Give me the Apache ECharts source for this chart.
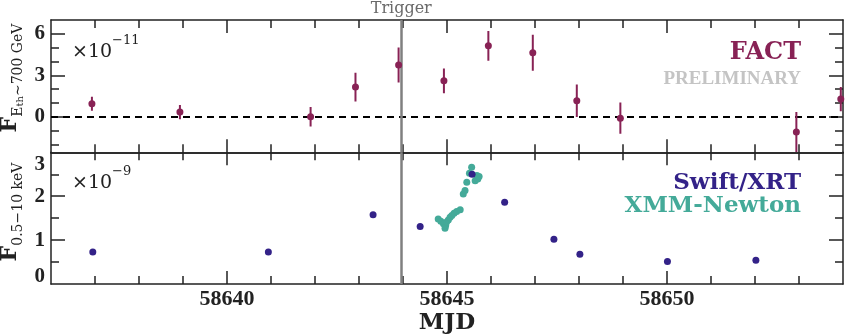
<!DOCTYPE html>
<html><head><meta charset="utf-8">
<script src="https://cdn.jsdelivr.net/npm/echarts@6/dist/echarts.min.js"></script>
<style>html,body{margin:0;padding:0;background:#fff}#c{width:847px;height:336px}</style>
</head><body><div id="c"></div>
<script>
// ---------- data ----------
const factMJD  = [58636.93, 58638.93, 58641.90, 58642.92, 58643.90, 58644.93, 58645.94, 58646.95, 58647.95, 58648.94, 58652.94, 58653.95];
const factFlux = [0.94, 0.34, 0.00, 2.15, 3.74, 2.60, 5.13, 4.63, 1.16, -0.10, -1.10, 1.28];
const factErr  = [0.50, 0.52, 0.70, 1.04, 1.27, 0.90, 1.08, 1.31, 1.18, 1.13, 1.45, 0.88];

const xrtMJD  = [58636.95, 58640.94, 58643.32, 58644.39, 58645.57, 58646.31, 58647.43, 58648.02, 58650.01, 58652.02];
const xrtFlux = [0.73, 0.73, 1.575, 1.31, 2.50, 1.86, 1.02, 0.68, 0.51, 0.54];

const xmmMJD  = [58644.80, 58644.86, 58644.92, 58644.955, 58644.97, 58644.99, 58645.03, 58645.07, 58645.11, 58645.16, 58645.22, 58645.30, 58645.37, 58645.41, 58645.45, 58645.51, 58645.56, 58645.64, 58645.68, 58645.70, 58645.73];
const xmmFlux = [1.48, 1.43, 1.37, 1.27, 1.33, 1.41, 1.46, 1.52, 1.56, 1.61, 1.65, 1.69, 2.05, 2.13, 2.32, 2.52, 2.66, 2.35, 2.47, 2.39, 2.45];

const triggerMJD = 58643.955;

const xMajorTicks = [58640, 58645, 58650];
const xMinorTicks = [58637, 58638, 58639, 58641, 58642, 58643, 58644, 58646, 58647, 58648, 58649, 58651, 58652, 58653];
const topMajorTicks = [0, 3, 6];
const topMinorTicks = [-2, -1, 1, 2, 4, 5];
const botLabelTicks = [0, 1, 2, 3];
const botMajorTicks = [1, 2];
const botMinorTicks = [0.5, 1.5, 2.5];

// ---------- style ----------
const WINE = '#882255', INDIGO = '#332288', TEAL = '#44AA99';
const AX = '#222';
const TICKFONT = 'Liberation Serif';
const SERIF = 'DejaVu Serif';
const X0 = 58636, X1 = 58654;

function xPair(grid, pos, labels) {
  const base = {
    type: 'value', gridIndex: grid, position: pos, min: X0, max: X1,
    splitLine: {show: false}
  };
  const minor = Object.assign({}, base, {
    axisLine: {show: true, onZero: false, lineStyle: {color: AX, width: 1.5}},
    axisTick: {show: true, inside: true, length: 8, customValues: xMinorTicks, lineStyle: {color: AX, width: 1.5}},
    axisLabel: {show: false}
  });
  const major = Object.assign({}, base, {
    axisLine: {show: false, onZero: false},
    axisTick: {show: true, inside: true, length: 13, customValues: xMajorTicks, lineStyle: {color: AX, width: 1.5}},
    axisLabel: labels ? {show: true, customValues: xMajorTicks, margin: 4, color: AX,
      fontFamily: TICKFONT, fontWeight: 'bold', fontSize: 22, formatter: v => String(v)} : {show: false}
  });
  if (labels) {
    major.name = 'MJD';
    major.nameLocation = 'middle';
    major.nameGap = 28;
    major.nameTextStyle = {fontFamily: SERIF, fontWeight: 'bold', fontSize: 23, color: AX};
  }
  return [minor, major];
}

function yPair(grid, pos, min, max, minorT, majorT, labelT, labels, fmt) {
  const base = {type: 'value', gridIndex: grid, position: pos, min: min, max: max, splitLine: {show: false}};
  const minor = Object.assign({}, base, {
    axisLine: {show: true, onZero: false, lineStyle: {color: AX, width: 1.5}},
    axisTick: {show: true, inside: true, length: 8, customValues: minorT, lineStyle: {color: AX, width: 1.5}},
    axisLabel: {show: false}
  });
  const major = Object.assign({}, base, {
    axisLine: {show: false, onZero: false},
    axisTick: {show: true, inside: true, length: 14, customValues: majorT, lineStyle: {color: AX, width: 1.5}},
    axisLabel: labels ? {show: true, customValues: labelT, margin: 6, color: AX, showMinLabel: true, showMaxLabel: true,
      fontFamily: TICKFONT, fontWeight: 'bold', fontSize: 21, formatter: fmt,
      rich: {
        lo: {fontFamily: TICKFONT, fontWeight: 'bold', fontSize: 21, color: AX, padding: [0, 0, 14, 0]},
        hi: {fontFamily: TICKFONT, fontWeight: 'bold', fontSize: 21, color: AX, padding: [24, 0, 0, 0]}
      }} : {show: false}
  });
  return [minor, major];
}

const botFmt = v => v === 0 ? '{lo|0}' : (v === 3 ? '{hi|3}' : String(v));
const topFmt = v => String(v);

const xAxes = [].concat(
  xPair(0, 'bottom', false), xPair(0, 'top', false),
  xPair(1, 'bottom', true),  xPair(1, 'top', false)
);
const yAxes = [].concat(
  yPair(0, 'left', -2.57, 7.0, topMinorTicks, topMajorTicks, topMajorTicks, true, topFmt),
  yPair(0, 'right', -2.57, 7.0, topMinorTicks, topMajorTicks, topMajorTicks, false),
  yPair(1, 'left', 0, 3, botMinorTicks, botMajorTicks, botLabelTicks, true, botFmt),
  yPair(1, 'right', 0, 3, botMinorTicks, botMajorTicks, botLabelTicks, false)
);

const factPts = factMJD.map((x, i) => [x, factFlux[i], factErr[i]]);
const xrtPts = xrtMJD.map((x, i) => [x, xrtFlux[i]]);
const xmmPts = xmmMJD.map((x, i) => [x, xmmFlux[i]]);

const option = {
  animation: false,
  grid: [
    {left: 51, right: 4, top: 20, height: 132.3},
    {left: 51, right: 4, top: 152.3, height: 132.2}
  ],
  xAxis: xAxes,
  yAxis: yAxes,
  series: [
    {
      type: 'custom', xAxisIndex: 0, yAxisIndex: 0, clip: true, z: 3,
      data: factPts,
      renderItem: function (params, api) {
        const x = api.value(0), y = api.value(1), e = api.value(2);
        const p1 = api.coord([x, y - e]), p2 = api.coord([x, y + e]);
        return {type: 'line', shape: {x1: p1[0], y1: p1[1], x2: p2[0], y2: p2[1]},
          style: {stroke: WINE, lineWidth: 2}};
      }
    },
    {
      type: 'scatter', xAxisIndex: 0, yAxisIndex: 0, z: 4,
      data: factPts, symbol: 'circle', symbolSize: 7,
      itemStyle: {color: WINE, opacity: 1},
      markLine: {
        silent: true, symbol: 'none', z: 2,
        data: [
          {yAxis: 0, lineStyle: {color: '#000', width: 2, type: [7, 5]}, label: {show: false}},
          {xAxis: triggerMJD, lineStyle: {color: '#808080', width: 2.5, type: 'solid'},
           label: {show: true, position: 'end', formatter: 'Trigger', distance: 3,
             fontFamily: SERIF, fontSize: 16, color: '#6a6a6a'}}
        ]
      }
    },
    {
      type: 'scatter', xAxisIndex: 4, yAxisIndex: 4, z: 3,
      data: xmmPts, symbol: 'circle', symbolSize: 7,
      itemStyle: {color: TEAL, opacity: 1}
    },
    {
      type: 'scatter', xAxisIndex: 4, yAxisIndex: 4, z: 4,
      data: xrtPts, symbol: 'circle', symbolSize: 7,
      itemStyle: {color: INDIGO, opacity: 1},
      markLine: {
        silent: true, symbol: 'none', z: 2,
        data: [{xAxis: triggerMJD, lineStyle: {color: '#808080', width: 2.5, type: 'solid'}, label: {show: false}}]
      }
    }
  ],
  graphic: [
    {type: 'text', x: 12, y: 78, rotation: Math.PI / 2, style: {
      text: '{F|F}{s|E}{ss|th}{s|∼700 GeV}', align: 'center', verticalAlign: 'middle',
      rich: {
        F: {fontFamily: SERIF, fontWeight: 'bold', fontSize: 22, lineHeight: 26, verticalAlign: 'top', fill: AX},
        s: {fontFamily: SERIF, fontSize: 14, lineHeight: 14, verticalAlign: 'bottom', fill: AX},
        ss: {fontFamily: SERIF, fontSize: 10, lineHeight: 8, verticalAlign: 'bottom', fill: AX}
      }}},
    {type: 'text', x: 12, y: 212, rotation: Math.PI / 2, style: {
      text: '{F|F}{s|0.5−10 keV}', align: 'center', verticalAlign: 'middle',
      rich: {
        F: {fontFamily: SERIF, fontWeight: 'bold', fontSize: 22, lineHeight: 26, verticalAlign: 'top', fill: AX},
        s: {fontFamily: SERIF, fontSize: 14, lineHeight: 14, verticalAlign: 'bottom', fill: AX}
      }}},
    {type: 'text', x: 72, y: 48, style: {
      text: '{m|×10}{p|−11}', align: 'left', verticalAlign: 'middle',
      rich: {
        m: {fontFamily: SERIF, fontSize: 19, lineHeight: 28, verticalAlign: 'bottom', fill: AX},
        p: {fontFamily: SERIF, fontSize: 13, lineHeight: 13, verticalAlign: 'top', fill: AX}
      }}},
    {type: 'text', x: 72, y: 179, style: {
      text: '{m|×10}{p|−9}', align: 'left', verticalAlign: 'middle',
      rich: {
        m: {fontFamily: SERIF, fontSize: 19, lineHeight: 28, verticalAlign: 'bottom', fill: AX},
        p: {fontFamily: SERIF, fontSize: 13, lineHeight: 13, verticalAlign: 'top', fill: AX}
      }}},
    {type: 'text', x: 801, y: 53, style: {text: 'FACT', align: 'right', verticalAlign: 'middle',
      fontFamily: SERIF, fontWeight: 'bold', fontSize: 24, fill: WINE}},
    {type: 'text', x: 801, y: 79, style: {text: 'PRELIMINARY', align: 'right', verticalAlign: 'middle',
      fontFamily: 'Liberation Serif', fontWeight: 'bold', fontSize: 19, fill: '#c4c4c4'}},
    {type: 'text', x: 801, y: 183, style: {text: 'Swift/XRT', align: 'right', verticalAlign: 'middle',
      fontFamily: SERIF, fontWeight: 'bold', fontSize: 23, fill: INDIGO}},
    {type: 'text', x: 801, y: 206, style: {text: 'XMM-Newton', align: 'right', verticalAlign: 'middle',
      fontFamily: SERIF, fontWeight: 'bold', fontSize: 23, fill: TEAL}}
  ]
};

const chart = echarts.init(document.getElementById('c'), null, {renderer: 'canvas'});
chart.setOption(option);
</script>
</body></html>
